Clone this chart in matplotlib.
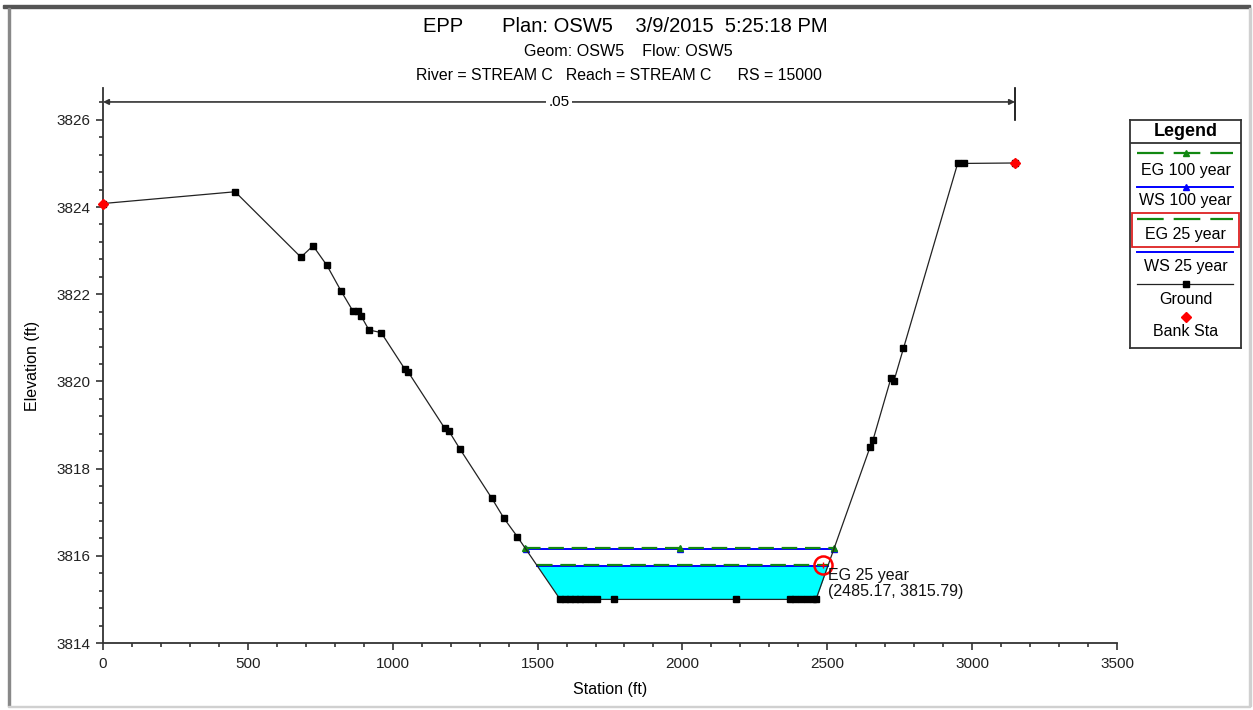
import numpy as np
import matplotlib
matplotlib.use("Agg")
import matplotlib.pyplot as plt
from matplotlib.patches import Rectangle

plt.rcParams["font.family"] = ["Liberation Sans", "DejaVu Sans"]

# ground profile (station ft, elevation ft)
ground_sta = [0, 456, 683, 725, 773, 822, 863, 880, 890, 918, 960, 1042, 1053,
              1180, 1194, 1232, 1342, 1384, 1430,
              1578, 1595, 1612, 1630, 1648, 1665, 1685, 1705, 1764, 2185,
              2371, 2390, 2410, 2430, 2450, 2461,
              2648, 2658, 2720, 2730, 2763, 2950, 2972, 3148]
ground_elev = [3824.08, 3824.35, 3822.85, 3823.11, 3822.66, 3822.07, 3821.61, 3821.61, 3821.51,
               3821.18, 3821.12, 3820.28, 3820.22,
               3818.92, 3818.86, 3818.45, 3817.32, 3816.86, 3816.44,
               3815.0, 3815.0, 3815.0, 3815.0, 3815.0, 3815.0, 3815.0, 3815.0, 3815.0, 3815.0,
               3815.0, 3815.0, 3815.0, 3815.0, 3815.0, 3815.0,
               3818.50, 3818.66, 3820.08, 3820.01, 3820.76, 3825.0, 3825.0, 3825.01]

bank_sta = [0, 3148]
bank_elev = [3824.08, 3825.01]

# water surfaces
eg_100 = 3816.19
ws_100 = 3816.15
eg_25 = 3815.79
ws_25 = 3815.77

# manning's n between bank stations
n_value = ".05"
n_limits = [0, 3148]

# picked point
pick_sta = 2485.17
pick_elev = 3815.79

title1 = "EPP       Plan: OSW5    3/9/2015  5:25:18 PM"
title2 = "Geom: OSW5    Flow: OSW5"
title3 = "River = STREAM C   Reach = STREAM C      RS = 15000"

legend_labels = ["EG 100 year", "WS 100 year", "EG 25 year", "WS 25 year", "Ground", "Bank Sta"]

GREEN = "#118811"
BLUE = "#0000ff"

W, H = 1253, 710


def wet_limits(sta, elev, w):
    below = elev < w
    i = int(np.argmax(below))
    j = len(below) - 1 - int(np.argmax(below[::-1]))
    xl = np.interp(w, [elev[i], elev[i - 1]], [sta[i], sta[i - 1]])
    xr = np.interp(w, [elev[j], elev[j + 1]], [sta[j], sta[j + 1]])
    return xl, xr, i, j


sta = np.array(ground_sta, dtype=float)
elev = np.array(ground_elev, dtype=float)

fig = plt.figure(figsize=(W / 100, H / 100), dpi=100)
ax = fig.add_axes([103 / W, (H - 643) / H, 1014 / W, 555 / H])

# window frame
fig.patches.append(Rectangle((3 / W, 1 - 8 / H), 1247 / W, 3 / H, transform=fig.transFigure,
                             color="#555555", zorder=0))
fig.patches.append(Rectangle((8 / W, 1 - 706 / H), 2 / W, 698 / H, transform=fig.transFigure,
                             color="#888888", zorder=0))
fig.patches.append(Rectangle((1249 / W, 1 - 706 / H), 1.5 / W, 698 / H, transform=fig.transFigure,
                             color="#d0d0d0", zorder=0))
fig.patches.append(Rectangle((8 / W, 1 - 707 / H), 1242 / W, 1.5 / H, transform=fig.transFigure,
                             color="#d0d0d0", zorder=0))

# water fill for 25 year
xl, xr, i, j = wet_limits(sta, elev, ws_25)
fx = np.r_[xl, sta[i:j + 1], xr]
fy = np.r_[ws_25, elev[i:j + 1], ws_25]
ax.fill_between(fx, fy, ws_25, color="#00ffff", zorder=1, linewidth=0)
ax.plot([xl, xr], [ws_25, ws_25], color=BLUE, lw=1.4, zorder=3)
xl, xr, _, _ = wet_limits(sta, elev, eg_25)
ax.plot([xl, xr], [eg_25, eg_25], color=GREEN, lw=1.6, dashes=(7, 3.5), zorder=4)

# 100 year
xl, xr, _, _ = wet_limits(sta, elev, ws_100)
ax.plot([xl, xr], [ws_100, ws_100], color=BLUE, lw=1.4, zorder=3)
ax.plot([xl, (xl + xr) / 2, xr], [ws_100] * 3, ls="none", marker="^", ms=5, color=BLUE, zorder=3)
xl, xr, _, _ = wet_limits(sta, elev, eg_100)
ax.plot([xl, xr], [eg_100, eg_100], color=GREEN, lw=1.6, dashes=(7, 3.5), zorder=4)
ax.plot([xl, (xl + xr) / 2, xr], [eg_100] * 3, ls="none", marker="^", ms=5, color=GREEN, zorder=4)

# ground
ax.plot(sta, elev, color="#222222", lw=0.9, marker="s", ms=5, mfc="black", mec="black", zorder=5)
ax.plot(bank_sta, bank_elev, ls="none", marker="D", ms=5, color="red", zorder=6, clip_on=False)

# picked point
ax.plot([pick_sta], [pick_elev], marker="o", ms=13, mfc="none", mec="red", mew=1.8, zorder=7)
ax.plot([pick_sta], [pick_elev], marker="+", ms=4, color="red", mew=1, zorder=7)
ax.text(pick_sta + 18, pick_elev - 0.07, "EG 25 year\n(2485.17, 3815.79)", fontsize=11.5,
        va="top", ha="left", linespacing=1.05, zorder=8, color="#111111")

# n value arrow
ny = 3826.41
ax.annotate("", xy=(n_limits[0], ny), xytext=(n_limits[1], ny),
            arrowprops=dict(arrowstyle="<|-|>", color="#333333", lw=1.2, mutation_scale=8,
                            shrinkA=0, shrinkB=0), annotation_clip=False, zorder=5)
ax.plot([n_limits[1], n_limits[1]], [3826.0, 3826.73], color="black", lw=1.2, clip_on=False)
ax.text(sum(n_limits) / 2, ny, n_value, ha="center", va="center", fontsize=11,
        bbox=dict(facecolor="white", edgecolor="none", pad=1.5), zorder=6)

ax.set_xlim(0, 3500)
ax.set_ylim(3814, 3826.73)
ax.set_xticks(np.arange(0, 3501, 500))
ax.set_xticks(np.arange(0, 3501, 100), minor=True)
ax.set_yticks(np.arange(3814, 3827, 2))
ax.set_yticks(np.arange(3814, 3826.5, 0.4), minor=True)
for s in ["top", "right"]:
    ax.spines[s].set_visible(False)
for s in ["left", "bottom"]:
    ax.spines[s].set_linewidth(1.3)
    ax.spines[s].set_color("#333333")
ax.tick_params(which="major", length=5, width=1.2, color="#333333", labelsize=11,
               labelcolor="#222222")
ax.tick_params(axis="x", which="major", pad=5)
ax.tick_params(axis="y", which="major", pad=4)
ax.tick_params(which="minor", length=3, width=1.2, color="#333333")
ax.set_xlabel("Station (ft)", fontsize=11.5, labelpad=8)
ax.set_ylabel("Elevation (ft)", fontsize=11.5, labelpad=12)

fig.text(423 / W, 1 - 27 / H, title1, fontsize=14.5, ha="left", va="center")
fig.text(524 / W, 1 - 52 / H, title2, fontsize=11.6, ha="left", va="center")
fig.text(416 / W, 1 - 75 / H, title3, fontsize=11.4, ha="left", va="center")

# legend box drawn in pixel coordinates
lg = fig.add_axes([1130 / W, (H - 348) / H, 111 / W, 228 / H])
lg.set_xlim(1130, 1241)
lg.set_ylim(348, 120)
lg.set_xticks([])
lg.set_yticks([])
for s in lg.spines.values():
    s.set_linewidth(1.3)
    s.set_color("#333333")
lg.text(1185.5, 131, "Legend", ha="center", va="center", fontsize=13, fontweight="bold")
lg.plot([1130, 1241], [143, 143], color="#333333", lw=1.3)
x0, x1, xm = 1137, 1233, 1185.5
sample_y = [153, 186.5, 219, 251.5, 284, 316.5]
label_y = [170, 201, 234, 267, 300, 332]
lg.plot([x0, x1], [sample_y[0]] * 2, color=GREEN, lw=1.6, dashes=(12, 4.5))
lg.plot([xm], [sample_y[0]], marker="^", ms=5, color=GREEN)
lg.plot([x0, x1], [sample_y[1]] * 2, color=BLUE, lw=1.4)
lg.plot([xm], [sample_y[1]], marker="^", ms=5, color=BLUE)
lg.plot([x0, x1], [sample_y[2]] * 2, color=GREEN, lw=1.6, dashes=(12, 4.5))
lg.plot([x0, x1], [sample_y[3]] * 2, color=BLUE, lw=1.4)
lg.plot([x0, x1], [sample_y[4]] * 2, color="#222222", lw=0.9)
lg.plot([xm], [sample_y[4]], marker="s", ms=5, color="black")
lg.plot([xm], [sample_y[5]], marker="D", ms=5, color="red")
for lab, y in zip(legend_labels, label_y):
    lg.text(xm, y, lab, ha="center", va="center", fontsize=11.5)
lg.add_patch(Rectangle((1131.5, 212.5), 107.5, 34, fill=False, edgecolor="#dd2222", lw=1.3))

fig.savefig("out.png", dpi=100)
